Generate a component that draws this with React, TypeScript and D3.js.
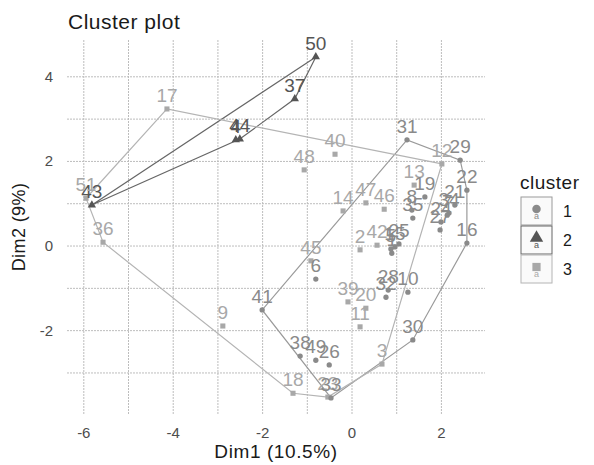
import React from "react";
import * as d3 from "d3";

// ---- data ----
const pointIds = [
  "50", "37", "44", "4", "43",
  "17", "51", "36", "9", "18", "48", "40", "14", "12", "13", "46", "47", "2", "42", "23", "3", "45", "39", "20", "11",
  "31", "29", "22", "16", "30", "33", "41", "38", "49", "26", "21", "34", "24", "19", "8", "35", "27", "7", "1", "15", "25", "5", "28", "32", "10", "6",
];
const dim1Values = [
  -0.81, -1.28, -2.51, -2.6, -5.82,
  -4.14, -5.95, -5.57, -2.89, -1.32, -1.07, -0.38, -0.2, 2.01, 1.39, 0.72, 0.31, 0.18, 0.56, -0.54, 0.67, -0.92, -0.09, 0.31, 0.18,
  1.23, 2.42, 2.57, 2.57, 1.36, -0.47, -2.01, -1.16, -0.81, -0.51, 2.3, 2.17, 1.99, 1.63, 1.34, 1.36, 1.97, 2.13, 0.89, 0.96, 1.05, 0.87, 0.81, 0.76, 1.25, -0.81,
];
const dim2Values = [
  4.47, 3.48, 2.53, 2.51, 0.97,
  3.24, 1.13, 0.09, -1.89, -3.48, 1.8, 2.17, 0.83, 1.94, 1.44, 0.87, 1.02, -0.09, 0.02, -3.57, -2.79, -0.35, -1.32, -1.47, -1.91,
  2.51, 2.03, 1.32, 0.07, -2.22, -3.59, -1.51, -2.6, -2.7, -2.81, 0.97, 0.78, 0.57, 1.16, 0.85, 0.66, 0.38, 0.73, -0.17, -0.02, 0.05, -0.07, -1.04, -1.21, -1.09, -0.78,
];
const clusterOf = [
  2, 2, 2, 2, 2,
  3, 3, 3, 3, 3, 3, 3, 3, 3, 3, 3, 3, 3, 3, 3, 3, 3, 3, 3, 3,
  1, 1, 1, 1, 1, 1, 1, 1, 1, 1, 1, 1, 1, 1, 1, 1, 1, 1, 1, 1, 1, 1, 1, 1, 1, 1,
];
const clusterNames = ["1", "2", "3"];
const xTicks = [-6, -4, -2, 0, 2];
const xMinor = [-5, -3, -1, 1];
const yTicks = [-2, 0, 2, 4];
const yMinor = [-3, -1, 1, 3];

const pointColor: Record<string, string> = { "1": "#8a8a8a", "2": "#555555", "3": "#a8a8a8" };
const hullColor: Record<string, string> = { "1": "#9a9a9a", "2": "#666666", "3": "#b4b4b4" };

const W = 594;
const H = 465;
const left = 67, right = 485, top = 40, bottom = 414;
const FONT = "'Liberation Sans', Arial, Helvetica, sans-serif";

const x = d3.scaleLinear().domain([-6.376, 2.975]).range([left, right]);
const y = d3.scaleLinear().domain([-3.97, 4.87]).range([bottom, top]);

const symType: Record<string, d3.SymbolType> = {
  "1": d3.symbolCircle,
  "2": d3.symbolTriangle,
  "3": d3.symbolSquare,
};
const symSize: Record<string, number> = { "1": 22, "2": 30, "3": 26 };

export default function App() {
  const pts = pointIds.map((id, i) => ({
    id,
    c: String(clusterOf[i]),
    px: x(dim1Values[i]),
    py: y(dim2Values[i]),
  }));
  const hulls = clusterNames.map((c) => {
    const cp = pts.filter((p) => p.c === c).map((p) => [p.px, p.py] as [number, number]);
    return { c, hull: d3.polygonHull(cp) };
  });
  const sym = (c: string, size?: number) =>
    d3.symbol().type(symType[c]).size(size ?? symSize[c])() || "";

  return (
    <svg
      width={W}
      height={H}
      style={{ position: "absolute", left: 0, top: 0, background: "#fff" }}
      fontFamily={FONT}
    >
      <rect width={W} height={H} fill="#fff" />
      {/* grid */}
      <g stroke="#bdbdbd" strokeWidth={1} strokeDasharray="2 1">
        {[...xTicks, ...xMinor].map((t) => (
          <line key={"gx" + t} x1={x(t)} x2={x(t)} y1={top} y2={bottom} />
        ))}
        {[...yTicks, ...yMinor].map((t) => (
          <line key={"gy" + t} x1={left} x2={right} y1={y(t)} y2={y(t)} />
        ))}
      </g>
      {/* hulls */}
      {hulls.map(({ c, hull }) =>
        hull ? (
          <path
            key={"h" + c}
            d={"M" + hull.map((p) => p.join(",")).join("L") + "Z"}
            fill="none"
            stroke={hullColor[c]}
            strokeWidth={1.2}
          />
        ) : null
      )}
      {/* points */}
      {pts.map((p, i) => (
        <path key={"p" + i} d={sym(p.c)} transform={`translate(${p.px},${p.py})`} fill={pointColor[p.c]} />
      ))}
      {/* labels */}
      {pts.map((p, i) => (
        <text
          key={"l" + i}
          x={p.px}
          y={p.py - 7}
          textAnchor="middle"
          fontSize={19}
          fill={pointColor[p.c]}
        >
          {p.id}
        </text>
      ))}
      {/* axes tick labels */}
      {xTicks.map((t) => (
        <text key={"xt" + t} x={x(t)} y={438} textAnchor="middle" fontSize={15} fill="#4d4d4d">
          {t}
        </text>
      ))}
      {yTicks.map((t) => (
        <text key={"yt" + t} x={53} y={y(t) + 5} textAnchor="end" fontSize={15} fill="#4d4d4d">
          {t}
        </text>
      ))}
      {/* axis titles */}
      <text x={(left + right) / 2} y={458} textAnchor="middle" fontSize={19} letterSpacing={0.6} fill="#1a1a1a">
        Dim1 (10.5%)
      </text>
      <text
        transform={`translate(25,${(top + bottom) / 2}) rotate(-90)`}
        textAnchor="middle"
        fontSize={18}
        letterSpacing={0.4}
        fill="#1a1a1a"
      >
        Dim2 (9%)
      </text>
      {/* title */}
      <text x={68} y={29} fontSize={21} letterSpacing={0.5} fill="#1a1a1a">
        Cluster plot
      </text>
      {/* legend */}
      <text x={520} y={189} fontSize={19} letterSpacing={0.5} fill="#1a1a1a">
        cluster
      </text>
      {clusterNames.map((c, i) => {
        const ky = 197 + i * 29;
        return (
          <g key={"lg" + c}>
            <rect x={521} y={ky} width={31} height={28} fill="#fafafa" stroke={hullColor[c]} strokeWidth={1} />
            <path d={sym(c, symSize[c] * 2.6)} transform={`translate(536.5,${ky + 12})`} fill={pointColor[c]} />
            <text x={536.5} y={ky + 22} textAnchor="middle" fontSize={9} fill={pointColor[c]}>
              a
            </text>
            <text x={563} y={ky + 20} fontSize={16} fill="#1a1a1a">
              {c}
            </text>
          </g>
        );
      })}
    </svg>
  );
}
